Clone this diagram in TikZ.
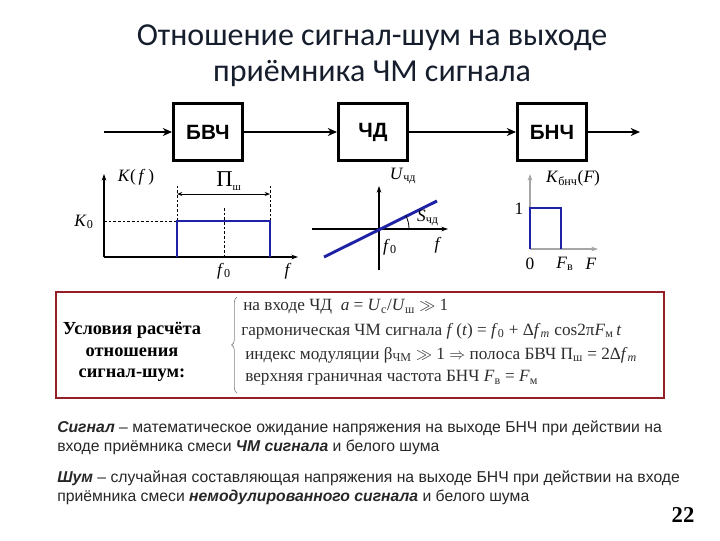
\documentclass[tikz,border=0pt]{standalone}
\usepackage{fontspec}
\setmainfont{Liberation Serif}
\setsansfont{Liberation Sans}
\newfontfamily\titlefont{Carlito}
\usetikzlibrary{arrows.meta,decorations.pathreplacing}
\definecolor{plotblue}{RGB}{30,35,165}
\definecolor{boxred}{RGB}{150,30,40}
\definecolor{txtgray}{RGB}{45,45,45}
\definecolor{titlecol}{RGB}{22,30,45}
\tikzset{
  blk/.style={draw, line width=1.9pt, minimum width=52pt, minimum height=43pt, inner sep=0pt,
    font=\sffamily\bfseries\fontsize{15.5}{18}\selectfont},
  conn/.style={line width=1.5pt, -{Stealth[length=7pt,width=6pt]}},
  axis/.style={line width=0.8pt},
  axarr/.style={line width=0.8pt, -{Stealth[length=5pt,width=3.5pt]}},
  bluel/.style={plotblue, line width=2.2pt},
  dsh/.style={line width=0.6pt, dash pattern=on 2pt off 1.5pt},
  lab/.style={inner sep=0pt, font=\fontsize{13}{15}\selectfont},
  cond/.style={inner sep=0pt, anchor=west, text=txtgray, font=\fontsize{12.9}{15}\selectfont},
  body/.style={inner sep=0pt, anchor=west, text=black!85, font=\sffamily\fontsize{11.8}{14}\selectfont},
  ttl/.style={inner sep=0pt, text=titlecol, font=\titlefont\fontsize{24}{28}\selectfont},
}
\begin{document}
\begin{tikzpicture}[x=0.75pt,y=-0.75pt]
\useasboundingbox (0,0) rectangle (720,540);
% title
\node[ttl] (t1) at (372,38) {Отношение сигнал-шум на выходе};
\node[ttl] (t2) at (372,73) {приёмника ЧМ сигнала};
% block chain
\node[blk] (b1) at (208,132) {БВЧ};
\node[blk] (b2) at (373,132) {ЧД};
\node[blk] (b3) at (552,132) {БНЧ};
\coordinate (in) at (104,132);
\coordinate (out) at (640,132);
\draw[conn] (in) -- (b1);
\draw[conn] (b1) -- (b2);
\draw[conn] (b2) -- (b3);
\draw[conn] (b3) -- (out);
% graph 1
\draw[axarr] (104,257) -- (104,174);
\draw[axarr] (104,257) -- (298,257);
\draw[dsh] (104,221) -- (177,221);
\draw[dsh] (177,221) -- (177,186);
\draw[dsh] (270,221) -- (270,186);
\draw[dsh] (224,208) -- (224,257);
\draw[line width=0.6pt, {Stealth[length=4pt,width=3pt]}-{Stealth[length=4pt,width=3pt]}] (177,194) -- (270,194);
\draw[bluel] (177,257) -- (177,221) -- (270,221) -- (270,257);
\node[lab] (k1) at (136,177) {\textit{K}(\,\textit{f}\,)};
\node[lab] (k0) at (84,222) {\textit{K}\textsubscript{0}};
\node[lab, font=\fontsize{17}{19}\selectfont] (pw) at (229,181) {Π\textsubscript{\fontsize{8}{9}\selectfont ш}};
\node[lab] (f01) at (224,271) {\textit{f}\textsubscript{0}};
\node[lab] (ff1) at (288,271) {\textit{f}};
% graph 2
\draw[axarr] (379,270) -- (379,186);
\draw[axarr] (312,229) -- (448,229);
\draw[bluel] (324,257) -- (437,201);
\draw[line width=0.6pt] (409,229) arc[start angle=0,end angle=-27,radius=30];
\node[lab] (u) at (403,176) {\textit{U}\textsubscript{чд}};
\node[lab] (s) at (428,218) {\textit{S}\textsubscript{чд}};
\node[lab] (f02) at (390,247) {\textit{f}\textsubscript{0}};
\node[lab] (ff2) at (438,245) {\textit{f}};
% graph 3
\draw[axarr, gray!70] (530,249) -- (530,174);
\draw[axarr, gray!70] (530,249) -- (598,249);
\draw[bluel] (530,249) -- (530,208) -- (561,208) -- (561,249);
\node[lab] (kb) at (573,178) {\textit{K}\textsubscript{бнч}(\textit{F})};
\node[lab] (one) at (519,209) {1};
\node[lab] (zero) at (530,264) {0};
\node[lab] (fv) at (565,264) {\textit{F}\textsubscript{в}};
\node[lab] (fF) at (591,264) {\textit{F}};
% red box
\draw[boxred, line width=1.5pt] (56,292) rectangle (664,398);
\node[inner sep=0pt, align=center, font=\bfseries\fontsize{13.8}{16}\selectfont] (cond) at (132,352) {Условия расчёта\\отношения\\сигнал-шум:};
\draw[gray, line width=0.5pt, decorate, decoration={brace, amplitude=4pt}] (237,393) -- (237,297);
\node[cond] (c1) at (243,307) {на входе ЧД \ \textit{a} = \textit{U}\textsubscript{с}/\textit{U}\textsubscript{ш} $\gg$ 1};
\node[cond] (c2) at (241,331) {гармоническая ЧМ сигнала \textit{f}\,(\textit{t}) = \textit{f}\textsubscript{0} + Δ\textit{f}\textsubscript{\textit{m}} cos2π\textit{F}\textsubscript{м}\,\textit{t}};
\node[cond] (c3) at (245,355) {индекс модуляции β\textsubscript{ЧМ} $\gg$ 1 $\Rightarrow$ полоса БВЧ Π\textsubscript{ш} = 2Δ\textit{f}\textsubscript{\textit{m}}};
\node[cond] (c4) at (245,378) {верхняя граничная частота БНЧ \textit{F}\textsubscript{в} = \textit{F}\textsubscript{м}};
% bottom text
\node[body] (s1) at (57,428) {\textbf{\textit{Сигнал}} – математическое ожидание напряжения на выходе БНЧ при действии на};
\node[body] (s2) at (57,447) {входе приёмника смеси \textbf{\textit{ЧМ сигнала}} и белого шума};
\node[body] (n1) at (57,478) {\textbf{\textit{Шум}} – случайная составляющая напряжения на выходе БНЧ при действии на входе};
\node[body] (n2) at (57,497) {приёмника смеси \textbf{\textit{немодулированного сигнала}} и белого шума};
\node[inner sep=0pt, font=\bfseries\fontsize{17}{19}\selectfont] (num) at (683,515) {22};
\end{tikzpicture}
\end{document}
